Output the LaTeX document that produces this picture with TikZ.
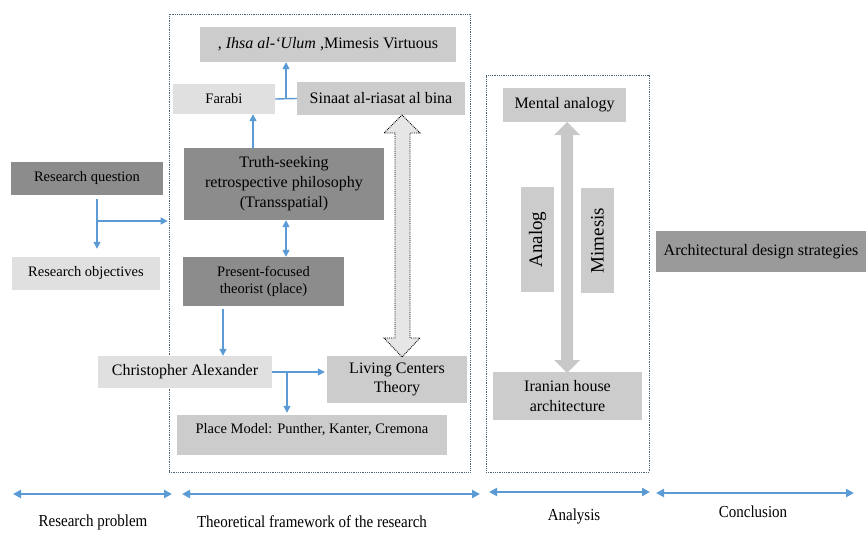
\documentclass[tikz,border=0pt]{standalone}
\usepackage{fontspec}
\setmainfont{Liberation Serif}
\usetikzlibrary{arrows.meta,calc}
\definecolor{darkbox}{HTML}{8C8C8C}
\definecolor{midbox}{HTML}{CCCCCC}
\definecolor{lightbox}{HTML}{E0E0E0}
\definecolor{stratbox}{HTML}{9A9A9A}
\definecolor{flowblue}{HTML}{5B9BD5}
\definecolor{framecol}{HTML}{4F6272}
\definecolor{bigarrowfill}{HTML}{E6E6E6}
\definecolor{analysisarrow}{HTML}{C8C8C8}
\tikzset{
  box/.style={fill=#1, draw=none, inner sep=0pt, align=center, text=black},
  fsmall/.style={font=\fontsize{14.5}{17.5}\selectfont},
  fbig/.style={font=\fontsize{16}{19.5}\selectfont},
  frame/.style={draw=framecol, densely dotted, line width=0.8pt, inner sep=0pt},
  flow/.style={draw=flowblue, line width=1.4pt, -{Triangle[length=7pt,width=7pt]}},
  flowboth/.style={draw=flowblue, line width=1.4pt, {Triangle[length=7pt,width=7pt]}-{Triangle[length=7pt,width=7pt]}},
  flowplain/.style={draw=flowblue, line width=1.4pt},
  phase/.style={draw=flowblue, line width=2pt, {Triangle[length=8pt,width=8pt]}-{Triangle[length=8pt,width=8pt]}},
  phaselabel/.style={font=\fontsize{15}{17}\selectfont, inner sep=0pt, yscale=1.12},
}
\begin{document}
\begin{tikzpicture}[x=1pt, y=-1pt]
\useasboundingbox (0,0) rectangle (866,532);

% dotted frames
\node[frame, minimum width=301pt, minimum height=458pt] (theory) at (319.5,243) {};
\node[frame, minimum width=163pt, minimum height=397pt] (analysis) at (567.5,273.5) {};

% research problem column
\node[box=darkbox, fsmall, minimum width=152pt, minimum height=33pt] (rq) at (87,178.5) {Research question};
\node[box=lightbox, fsmall, minimum width=148pt, minimum height=33pt] (ro) at (86,273.5) {Research objectives};

% theoretical framework
\node[box=midbox, fbig, minimum width=256pt, minimum height=35pt] (ihsa) at (328,44.5) {, \textit{Ihsa al-‘Ulum} ,Mimesis Virtuous};
\node[box=lightbox, fsmall, minimum width=102pt, minimum height=30pt] (farabi) at (224,99) {Farabi};
\node[box=midbox, fbig, minimum width=168pt, minimum height=33pt] (sinaat) at (381,98.5) {Sinaat al-riasat al bina};
\node[box=darkbox, font=\fontsize{16}{20}\selectfont, minimum width=200pt, minimum height=72pt] (truth) at (284,184) {Truth-seeking\\retrospective philosophy\\(Transspatial)};
\node[box=darkbox, fsmall, minimum width=161pt, minimum height=49pt] (present) at (263.5,281.5) {Present-focused\\theorist (place)};
\node[box=lightbox, fbig, minimum width=174pt, minimum height=32pt] (ca) at (185,372) {Christopher Alexander};
\node[box=midbox, fbig, minimum width=140pt, minimum height=47pt] (lc) at (397,379.5) {Living Centers\\Theory};
\node[box=midbox, fsmall, minimum width=270pt, minimum height=40pt, text height=18pt, text depth=22pt] (place) at (312,435) {Place Model: Punther, Kanter, Cremona};

% analysis
\node[box=midbox, fbig, minimum width=123pt, minimum height=34pt] (ma) at (564.5,105) {Mental analogy};
\node[box=midbox, font=\fontsize{19}{22}\selectfont, rotate=90, minimum width=105pt, minimum height=33pt] (analog) at (537.5,239.5) {Analog};
\node[box=midbox, font=\fontsize{19}{22}\selectfont, rotate=90, minimum width=105pt, minimum height=33pt] (mimesis) at (597.5,240.5) {Mimesis};
\node[box=midbox, fbig, minimum width=149pt, minimum height=48pt] (iran) at (567.5,396) {Iranian house\\architecture};

% conclusion
\node[box=stratbox, fbig, minimum width=210pt, minimum height=41pt] (ads) at (761,251.5) {Architectural design strategies};

% helper coordinates for off-centre connectors
\coordinate (xrq) at (97,0);
\coordinate (yrq) at (0,221);
\coordinate (xtf) at (253,0);
\coordinate (xtp) at (286,0);
\coordinate (xpc) at (223,0);
\coordinate (xcp) at (287,0);

% research question connectors
\draw[flow] ([yshift=-4pt]rq.south -| xrq) -- ([yshift=8pt]ro.north -| xrq);
\draw[flow] (xrq |- yrq) -- ([xshift=-1pt]theory.west |- yrq);

% theoretical framework connectors
\draw[flowplain] (farabi.east) -- (sinaat.west);
\coordinate (fs) at ($(farabi.east)!0.5!(sinaat.west)$);
\draw[flow] (fs) -- (fs |- ihsa.south);
\draw[flow] (truth.north -| xtf) -- (farabi.south -| xtf);
\draw[flowboth] (truth.south -| xtp) -- (present.north -| xtp);
\draw[flow] ([yshift=-3pt]present.south -| xpc) -- (ca.north -| xpc);
\draw[flow] (ca.east) -- ([xshift=-2pt]ca.east -| lc.west);
\draw[flow] (ca.east -| xcp) -- ([yshift=2pt]place.north -| xcp);

% dotted two-way arrow between Sinaat al-riasat al bina and Living Centers Theory
\draw[fill=bigarrowfill, draw=black, densely dotted, line width=0.9pt]
  (402,115) -- (420,133) -- (410,133) -- (410,338) -- (420,338) -- (402,357)
  -- (384,338) -- (395,338) -- (395,133) -- (384,133) -- cycle;

% two-way arrow between Mental analogy and Iranian house architecture
\fill[analysisarrow]
  (567,122) -- (580,135) -- (573,135) -- (573,360) -- (580,360) -- (567,373)
  -- (554,360) -- (561,360) -- (561,135) -- (554,135) -- cycle;

% phase arrows
\coordinate (p1a) at (13,494);  \coordinate (p1b) at (172,494);
\coordinate (p2a) at (182,494); \coordinate (p2b) at (480,494);
\coordinate (p3a) at (489,492); \coordinate (p3b) at (650,492);
\coordinate (p4a) at (656,493); \coordinate (p4b) at (854,493);
\draw[phase] (p1a) -- (p1b);
\draw[phase] (p2a) -- (p2b);
\draw[phase] (p3a) -- (p3b);
\draw[phase] (p4a) -- (p4b);

\node[phaselabel] (l1) at (93,522) {Research problem};
\node[phaselabel] (l2) at (312,522) {Theoretical framework of the research};
\node[phaselabel] (l3) at (574,516) {Analysis};
\node[phaselabel] (l4) at (753,512) {Conclusion};
\end{tikzpicture}
\end{document}
